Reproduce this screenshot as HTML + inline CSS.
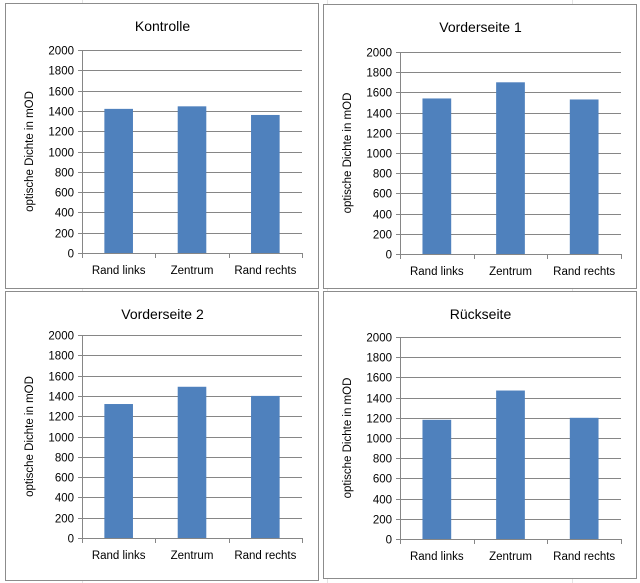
<!DOCTYPE html>
<html><head><meta charset="utf-8"><style>
html,body{margin:0;padding:0;background:#fff}
svg{display:block;font-family:"Liberation Sans",sans-serif}
</style></head><body>
<svg id="s" width="640" height="583" viewBox="0 0 640 583"></svg>
<script>
const categories = ["Rand links","Zentrum","Rand rechts"];
const titles = ["Kontrolle","Vorderseite 1","Vorderseite 2","Rückseite"];
const kontrolleValues = [1420,1445,1360];
const vorderseite1Values = [1540,1700,1530];
const vorderseite2Values = [1320,1490,1400];
const rueckseiteValues = [1180,1470,1200];
const yTicks = [0,200,400,600,800,1000,1200,1400,1600,1800,2000];
const seriesList = [kontrolleValues, vorderseite1Values, vorderseite2Values, rueckseiteValues];
const NS="http://www.w3.org/2000/svg";
const svg=document.getElementById('s');
function mk(tag,attrs,parent,text){const e=document.createElementNS(NS,tag);for(const k in attrs)e.setAttribute(k,attrs[k]);if(text!==undefined)e.textContent=text;(parent||svg).appendChild(e);return e;}
const bg=mk('g',{stroke:'#e4e4e4','stroke-width':1});


[82,327,572].forEach(x=>mk('line',{x1:x+.5,y1:0,x2:x+.5,y2:583},bg));
const panels=[{px:5,py:3,pw:313,ph:285,x0:82,x1:302,yTop:50,yBot:253},
{px:323,py:4,pw:313,ph:284,x0:400,x1:621,yTop:52,yBot:254},
{px:5,py:291,pw:313,ph:289,x0:82,x1:302,yTop:335,yBot:538},
{px:323,py:291,pw:313,ph:287,x0:400,x1:621,yTop:337,yBot:539}];
panels.forEach((p,i)=>{
  const g=mk('g',{});
  
  
  const r=mk('rect',{x:p.px+.5,y:p.py+.5,width:p.pw,height:p.ph,fill:'#fff',stroke:'#8c8c8c','stroke-width':1},g);
  
  
  const yS=v=>p.yBot-(v/2000)*(p.yBot-p.yTop);
  const bw=(p.x1-p.x0)/categories.length;
  const t=mk('text',{x:p.px+p.pw/2+1,y:p.py+28,'text-anchor':'middle','font-size':14,fill:'#000'},g,titles[i]);
  
  
  yTicks.forEach(v=>{
    const y=Math.round(yS(v))+.5;
    const l=mk('line',{x1:p.x0-4,y1:y,x2:p.x1,y2:y,stroke:'#868686','stroke-width':1},g);
    
    
    const tl=mk('text',{x:p.x0-8,y:y+4,'text-anchor':'end','font-size':11.5,fill:'#000'},g,String(v));
    
    
  });
  const ax=mk('line',{x1:p.x0+.5,y1:p.yTop,x2:p.x0+.5,y2:p.yBot+.5,stroke:'#868686'},g);
  
  
  for(let k=0;k<=categories.length;k++){
    const x=Math.round(p.x0+k*bw)+.5;
    const tk=mk('line',{x1:x,y1:p.yBot,x2:x,y2:p.yBot+5,stroke:'#868686'},g);
    
    
  }
  const vals=seriesList[i];
  categories.forEach((c,k)=>{
    const cx=p.x0+(k+.5)*bw, w=bw*0.39;
    const b=mk('rect',{x:cx-w/2,y:yS(vals[k]),width:w,height:p.yBot-yS(vals[k]),fill:'#4f81bd'},g);
    
    
    const xl=mk('text',{x:cx,y:p.yBot+21,'text-anchor':'middle','font-size':11.5,fill:'#000'},g,c);
    
    
  });
  const yc=(p.yTop+p.yBot)/2, xt=p.px+28;
  const yt=mk('text',{x:xt,y:yc,'text-anchor':'middle','font-size':11.5,fill:'#000',transform:`rotate(-90 ${xt} ${yc})`},g,'optische Dichte in mOD');
  
  
});
</script>
</body></html>
